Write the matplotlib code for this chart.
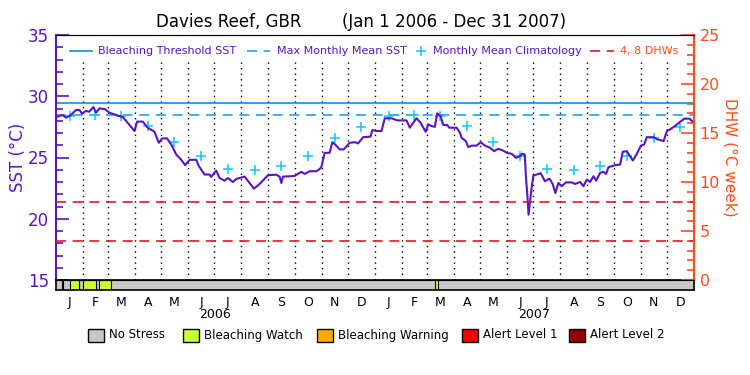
import numpy as np
import matplotlib
matplotlib.use("Agg")
import matplotlib.pyplot as plt
from matplotlib.patches import Rectangle
from matplotlib.lines import Line2D

# SST readings (days since Jan 1 2006, deg C)
sst_day = [0, 7.6, 11.5, 17, 23, 26.7, 29.8, 34, 38, 42.8, 45.8, 49.7, 56.5, 61, 68.8,
           76.4, 82, 89.8, 92.8, 99.3, 105, 112.7, 117.6, 121.5, 127, 131.8, 137.5, 143,
           147.8, 152.8, 160.4, 163.5, 170, 175.7, 177.6, 183.3, 187.1, 192.9, 196.7,
           202.4, 206.2, 215.8, 221.5, 226.5, 233, 242.5, 252, 255.9, 257.8, 259.7, 273,
           280.7, 284.5, 290.3, 297.9, 301, 303.6, 307.4, 313, 316.2, 320.8, 324.6, 329.2,
           336, 341.8, 345.6, 351.4, 359.8, 362, 366.6, 372.4, 376.2, 383.9, 390.4, 401,
           404.9, 408.7, 412.5, 417.1, 422.9, 425.9, 429.7, 433.5, 436.2, 440, 443.1,
           447.7, 450, 458.4, 462.2, 464.1, 469, 471.7, 475.6, 481.3, 485.9, 490.8, 496.6,
           501.2, 506.1, 511.8, 515.7, 521.4, 526.4, 531, 533.2, 536.3, 537.8, 539.3,
           540.7, 542.4, 544.7, 546.2, 550, 554.6, 559.5, 564.5, 568.3, 571.4, 574.8,
           578.6, 583.6, 590.1, 593.9, 599.7, 603.5, 607.3, 611.1, 615, 618, 622.6, 626.4,
           629.5, 632.1, 639.8, 645.5, 648.5, 653.1, 660, 664.6, 669.2, 673, 676, 683.7,
           688.3, 695.2, 699, 702.8, 709.7, 714.3, 719.2, 725, 730]
sst_val = [28.30, 28.47, 28.25, 28.47, 28.88, 28.88, 28.58, 28.80, 28.74, 29.12, 28.66,
           29.02, 28.93, 28.66, 28.47, 28.30, 27.84, 27.16, 27.93, 27.93, 27.43, 27.10,
           26.20, 26.56, 26.56, 26.07, 25.25, 24.84, 24.37, 24.81, 24.81, 24.29, 23.61,
           23.61, 23.42, 23.93, 23.33, 23.11, 23.33, 23.00, 23.25, 23.44, 22.92, 22.46,
           22.84, 23.55, 23.60, 23.43, 22.92, 23.44, 23.49, 23.83, 23.66, 23.88, 23.88,
           24.02, 24.21, 25.38, 25.38, 26.25, 25.97, 25.66, 25.66, 26.20, 26.25, 26.15,
           26.66, 26.70, 27.24, 27.16, 27.16, 28.20, 28.20, 28.03, 28.03, 27.43, 27.84,
           28.20, 27.84, 27.10, 27.70, 27.57, 27.50, 28.61, 28.39, 27.65, 27.65, 27.43,
           27.43, 27.02, 26.61, 26.34, 25.85, 25.97, 25.97, 26.25, 25.97, 25.80, 25.52,
           25.71, 25.56, 25.38, 25.30, 24.97, 25.11, 25.30, 25.25, 23.33, 21.97, 20.33,
           21.42, 22.79, 23.52, 23.61, 23.72, 23.06, 23.28, 22.84, 22.10, 22.92, 22.66,
           22.97, 22.97, 22.84, 23.00, 22.66, 23.20, 23.00, 23.47, 23.11, 23.75, 23.83,
           23.66, 24.21, 24.37, 24.43, 25.47, 25.52, 24.75, 25.30, 25.97, 26.07, 26.66,
           26.66, 26.48, 26.34, 27.16, 27.30, 27.65, 27.93, 28.17, 28.17, 27.80]

# monthly mean climatology, Jan..Dec
clim = [28.38, 28.50, 28.38, 27.55, 26.27, 25.16, 24.08, 23.98, 24.29, 25.16, 26.57, 27.51]
mmm = 28.47
threshold = 29.47
dhw_levels = [4, 8]

# bleaching watch periods (day start, day end); rest is no stress
watch = [(7, 8.5), (16.5, 26.5), (31, 45.5), (49, 63), (433.5, 437)]

month_letters = ["J", "F", "M", "A", "M", "J", "J", "A", "S", "O", "N", "D"]
years = ["2006", "2007"]

stress_names = ["No Stress", "Bleaching Watch", "Bleaching Warning", "Alert Level 1", "Alert Level 2"]
stress_colors = ["#c8c8c8", "#ccff33", "#ffaa00", "#ff0000", "#960000"]

purple = "#5a14c8"
orange = "#ff4a1a"
W, H = 750, 375

def fx(x):
    return x / W

def fy(y):
    return 1 - y / H

fig = plt.figure(figsize=(7.5, 3.75), dpi=100)
ax = fig.add_axes([fx(56), fy(280), fx(694 - 56), (280 - 35) / H])
bar = fig.add_axes([fx(56), fy(290), fx(694 - 56), 10 / H])

# month boundaries / centres
starts = np.arange("2006-01", "2008-02", dtype="datetime64[M]").astype("datetime64[D]")
mdays = (starts - starts[0]).astype(float)
mid = (mdays[:-1] + mdays[1:]) / 2

ax.set_xlim(0, 730)
ax.set_ylim(15, 35)
for d in mdays[1:-1]:
    ax.plot([d, d], [15, 32.8], color="black", lw=1, ls=(0, (1, 3)))

ax.axhline(threshold, color="#0a8cf0", lw=1.2)
ax.axhline(mmm, color="#19a0ff", lw=1.2, ls=(0, (6, 4)))

ax2 = ax.twinx()
ax2.set_ylim(0, 25)
for lv in dhw_levels:
    ax2.axhline(lv, color="#e8141e", lw=1.2, ls=(0, (6, 4)))

ax.plot(mid, clim * 2, ls="none", marker="+", ms=7.5, mew=1.2, color="#1ec8ff")
ax.plot(sst_day, sst_val, color=purple, lw=1.5)

# axis styling
ax.set_xticks([])
for s in ["top", "bottom"]:
    ax.spines[s].set_color("black")
ax.spines["left"].set_color(purple)
ax.spines["left"].set_linewidth(1.5)
ax2.spines["right"].set_color(orange)
ax2.spines["right"].set_linewidth(1.5)
ax2.spines["left"].set_visible(False)
ax.set_yticks([15, 20, 25, 30, 35])
ax.set_yticks(np.arange(15, 36, 1), minor=True)
ax.tick_params(axis="y", which="major", direction="in", length=9.5, width=1.2, color=purple,
               labelcolor=purple, labelsize=12, pad=5)
ax.tick_params(axis="y", which="minor", direction="in", length=5, width=1.2, color=purple)
ax2.set_yticks([0, 5, 10, 15, 20, 25])
ax2.set_yticks(np.arange(0, 26, 1), minor=True)
ax2.tick_params(axis="y", which="major", direction="in", length=9.5, width=1.2, color=orange,
                labelcolor=orange, labelsize=11.5, pad=4)
ax2.tick_params(axis="y", which="minor", direction="in", length=5, width=1.2, color=orange)
ax.set_ylabel("SST (°C)", color=purple, fontsize=12, labelpad=1)
ax2.set_ylabel("DHW (°C week)", color=orange, fontsize=11, rotation=270, labelpad=13)

# stress bar
bar.set_xlim(0, 730)
bar.set_ylim(0, 1)
bar.add_patch(Rectangle((0, 0), 730, 1, facecolor=stress_colors[0], edgecolor="none"))
for a, b in watch:
    bar.add_patch(Rectangle((a, 0), b - a, 1, facecolor=stress_colors[1], edgecolor="black", lw=0.8))
bar.set_yticks([])
bar.set_xticks(mid)
bar.set_xticklabels(month_letters * 2, fontsize=9)
bar.tick_params(axis="x", length=0, pad=4)
for s in bar.spines.values():
    s.set_linewidth(1.2)

fig.text(fx(56 + 182.5 * 0.8727), fy(315), years[0], ha="center", va="center", fontsize=9)
fig.text(fx(56 + 547.5 * 0.8727), fy(315), years[1], ha="center", va="center", fontsize=9)

# title
fig.text(fx(156), fy(22), "Davies Reef, GBR", ha="left", va="center", fontsize=12)
fig.text(fx(342), fy(22), "(Jan 1 2006 - Dec 31 2007)", ha="left", va="center", fontsize=12)

# top legend
ly = fy(51)
fig.add_artist(Line2D([fx(70), fx(92)], [ly, ly], color="#0a8cf0", lw=1.2))
fig.text(fx(98), ly, "Bleaching Threshold SST", color=purple, fontsize=8, va="center")
fig.add_artist(Line2D([fx(247), fx(270)], [ly, ly], color="#19a0ff", lw=1.2, ls=(0, (6, 4))))
fig.text(fx(277), ly, "Max Monthly Mean SST", color=purple, fontsize=8, va="center")
fig.add_artist(Line2D([fx(421)], [ly], color="#1ec8ff", marker="+", ms=7.5, mew=1.2, ls="none"))
fig.text(fx(433), ly, "Monthly Mean Climatology", color=purple, fontsize=8, va="center")
fig.add_artist(Line2D([fx(590), fx(614)], [ly, ly], color="#e8141e", lw=1.2, ls=(0, (6, 4))))
fig.text(fx(620), ly, "4, 8 DHWs", color=orange, fontsize=8, va="center")

# stress legend
box_x = [88, 183, 317, 462, 569]
for bx, name, col in zip(box_x, stress_names, stress_colors):
    fig.add_artist(Rectangle((fx(bx), fy(342)), fx(16), 13 / H, facecolor=col,
                             edgecolor="black", lw=1, transform=fig.transFigure))
    fig.text(fx(bx + 21), fy(335), name, fontsize=8.5, va="center")

fig.savefig("out.png", dpi=100)
